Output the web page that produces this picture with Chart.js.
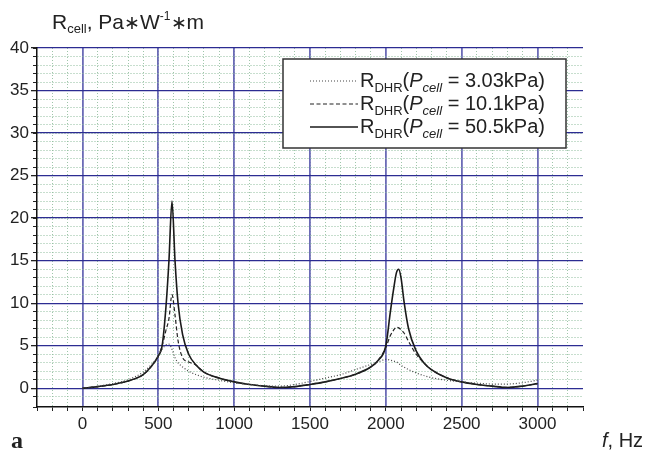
<!DOCTYPE html>
<html>
<head>
<meta charset="utf-8">
<script src="https://cdn.jsdelivr.net/npm/chart.js@4.4.0/dist/chart.umd.min.js"></script>
<style>
html, body { margin: 0; padding: 0; background: #fff; }
</style>
</head>
<body>
<canvas id="myChart" width="645" height="452"></canvas>
<script>
// frequency, Hz
var freq = [0, 100, 200, 300, 400, 450, 500, 525, 550, 570, 590, 610, 630, 660, 700, 750, 800, 900, 1000,
    1100, 1200, 1300, 1400, 1500, 1600, 1700, 1800, 1900, 1950, 2000, 2030, 2050, 2070, 2085, 2100,
    2120, 2150, 2200, 2250, 2300, 2400, 2500, 2600, 2700, 2800, 2900, 3000];
// R_DHR, Pa*W^-1*m
var r303 = [0, 0.25, 0.55, 1.0, 1.9, 2.7, 3.8, 4.6, 5.1, 5.2, 4.6, 3.6, 3.0, 2.5, 2.0, 1.6, 1.3, 0.95, 0.65,
    0.45, 0.3, 0.25, 0.45, 0.8, 1.2, 1.6, 2.2, 2.8, 3.1, 3.4, 3.3, 3.2, 3.1, 2.9, 2.7,
    2.5, 2.2, 1.8, 1.5, 1.25, 0.95, 0.75, 0.6, 0.5, 0.5, 0.65, 0.95];
var r101 = [0, 0.2, 0.45, 0.85, 1.6, 2.5, 3.8, 5.0, 6.8, 8.2, 11.0, 8.6, 5.6, 3.6, 3.1, 2.7, 1.9, 1.2, 0.75,
    0.45, 0.25, 0.1, 0.2, 0.45, 0.75, 1.15, 1.65, 2.5, 3.3, 4.8, 6.2, 6.8, 7.2, 7.1, 6.9,
    6.5, 5.5, 4.0, 3.0, 2.2, 1.25, 0.75, 0.45, 0.25, 0.1, 0.25, 0.55];
var r505 = [0, 0.2, 0.45, 0.85, 1.6, 2.5, 3.8, 5.0, 9.5, 15, 22, 15, 10, 6.3, 4.0, 2.7, 1.9, 1.2, 0.75,
    0.45, 0.25, 0.1, 0.2, 0.45, 0.75, 1.15, 1.65, 2.5, 3.3, 5.0, 9.0, 11.5, 13.6, 14.0, 13.0,
    10.2, 7.0, 4.4, 3.0, 2.2, 1.25, 0.75, 0.45, 0.25, 0.1, 0.25, 0.55];
var pressures = ['3.03', '10.1', '50.5'];
var xLabels = [0, 500, 1000, 1500, 2000, 2500, 3000];
var yLabels = [0, 5, 10, 15, 20, 25, 30, 35, 40];

var FONT = '"Liberation Sans", Arial, sans-serif';

function pts(vals) {
    return freq.map(function (f, i) { return {x: f, y: vals[i]}; });
}

function drawRich(ctx, x, y, parts) {
    parts.forEach(function (p) {
        ctx.font = p.font;
        ctx.fillText(p.t, x, y + (p.dy || 0));
        x += ctx.measureText(p.t).width;
    });
    return x;
}

// legend box with subscripts, and the axis titles
var annotations = {
    id: 'annotations',
    afterDraw: function (chart) {
        var ctx = chart.ctx;
        ctx.save();
        ctx.textBaseline = 'alphabetic';
        ctx.textAlign = 'left';
        ctx.fillStyle = '#222';

        var big = '20px ' + FONT, small = '13px ' + FONT;
        drawRich(ctx, 52, 29, [
            {t: 'R', font: '21px ' + FONT},
            {t: 'cell', font: small, dy: 4},
            {t: ', Pa', font: '21px ' + FONT},
            {t: '\u2217', font: '19px ' + FONT},
            {t: 'W', font: '21px ' + FONT},
            {t: '-1', font: '12px ' + FONT, dy: -9},
            {t: '\u2217', font: '19px ' + FONT},
            {t: 'm', font: '21px ' + FONT}
        ]);
        drawRich(ctx, 602, 447, [
            {t: 'f', font: 'italic 20px ' + FONT},
            {t: ', Hz', font: '20px ' + FONT}
        ]);
        ctx.font = 'bold 24px "Liberation Serif", serif';
        ctx.fillText('a', 11, 448);

        // legend
        ctx.fillStyle = '#fff';
        ctx.fillRect(283, 59, 283, 89);
        ctx.strokeStyle = '#333';
        ctx.lineWidth = 1.5;
        ctx.strokeRect(283, 59, 283, 89);
        chart.data.datasets.forEach(function (ds, i) {
            var y = 81 + i * 23;
            ctx.strokeStyle = ds.borderColor;
            ctx.lineWidth = ds.borderWidth;
            ctx.setLineDash(ds.borderDash || []);
            ctx.beginPath();
            ctx.moveTo(310, y);
            ctx.lineTo(358, y);
            ctx.stroke();
            ctx.setLineDash([]);
            ctx.fillStyle = '#222';
            drawRich(ctx, 360, y + 6, [
                {t: 'R', font: big},
                {t: 'DHR', font: small, dy: 5},
                {t: '(', font: big},
                {t: 'P', font: 'italic ' + big},
                {t: 'cell', font: 'italic ' + small, dy: 5},
                {t: ' = ' + pressures[i] + 'kPa)', font: big}
            ]);
        });
        ctx.restore();
    }
};

function edge(scale, v) {
    return Math.abs(v - scale.min) < 1e-6 || Math.abs(v - scale.max) < 1e-6;
}

var ctx = document.getElementById('myChart').getContext('2d');
new Chart(ctx, {
    type: 'line',
    data: {
        datasets: [{
            label: 'P = 3.03 kPa',
            data: pts(r303),
            borderColor: '#444',
            borderWidth: 1.2,
            borderDash: [1, 2],
            pointRadius: 0,
            cubicInterpolationMode: 'monotone',
            fill: false
        }, {
            label: 'P = 10.1 kPa',
            data: pts(r101),
            borderColor: '#222',
            borderWidth: 1.2,
            borderDash: [4, 2.5],
            pointRadius: 0,
            cubicInterpolationMode: 'monotone',
            fill: false
        }, {
            label: 'P = 50.5 kPa',
            data: pts(r505),
            borderColor: '#1a1a1a',
            borderWidth: 1.6,
            pointRadius: 0,
            cubicInterpolationMode: 'monotone',
            fill: false
        }]
    },
    options: {
        responsive: false,
        animation: false,
        layout: { padding: { left: 0, top: 48, right: 62, bottom: 0 } },
        plugins: { legend: { display: false }, tooltip: { enabled: false } },
        scales: {
            x: {
                type: 'linear', position: 'bottom', min: -300, max: 3300, weight: 1,
                afterFit: function (s) { s.height = 45; },
                ticks: {
                    stepSize: 100, autoSkip: false, maxRotation: 0, padding: 3, color: '#222',
                    font: { family: FONT, size: 17 },
                    callback: function (v) { return xLabels.indexOf(v) >= 0 ? String(v) : ''; }
                },
                grid: {
                    color: function (c) { return c.tick && edge(c.scale, c.tick.value) ? 'rgba(0,0,0,0)' : '#9fc6aa'; },
                    lineWidth: 1, tickColor: '#222', tickLength: 4, z: -1
                },
                border: { color: '#111', width: 1.5, dash: [1, 2], z: 1 }
            },
            xMajor: {
                type: 'linear', position: 'bottom', min: -300, max: 3300, weight: 0,
                afterFit: function (s) { s.height = 0; },
                afterBuildTicks: function (s) { s.ticks = xLabels.map(function (v) { return {value: v}; }); },
                ticks: { display: false },
                grid: { color: '#6b6bb6', lineWidth: 1.8, drawTicks: false },
                border: { display: false }
            },
            y: {
                type: 'linear', position: 'left', min: -2.2, max: 40, weight: 1,
                afterFit: function (s) { s.width = 37; },
                ticks: {
                    stepSize: 1, autoSkip: false, padding: 4, color: '#222',
                    font: { family: FONT, size: 17 },
                    callback: function (v) { return yLabels.indexOf(v) >= 0 ? String(v) : ''; }
                },
                grid: {
                    color: function (c) { return c.tick && edge(c.scale, c.tick.value) ? 'rgba(0,0,0,0)' : '#8fbc9c'; },
                    lineWidth: 1, tickColor: '#222', tickLength: 4, z: -1
                },
                border: { color: '#111', width: 1.5, dash: [1, 2], z: 1 }
            },
            yMajor: {
                type: 'linear', position: 'left', min: -2.2, max: 40, weight: 0,
                afterFit: function (s) { s.width = 0; },
                afterBuildTicks: function (s) { s.ticks = yLabels.map(function (v) { return {value: v}; }); },
                ticks: { display: false },
                grid: { color: '#2c2c92', lineWidth: 1.3, tickColor: '#222', tickLength: 6 },
                border: { display: false }
            }
        }
    },
    plugins: [annotations]
});
</script>
</body>
</html>
